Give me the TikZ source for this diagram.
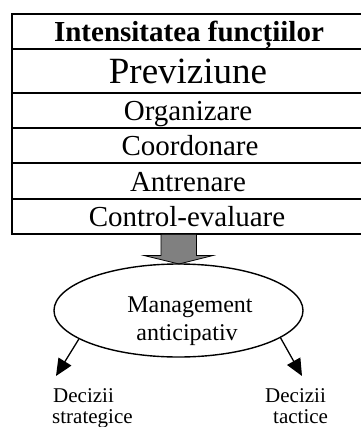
\documentclass[tikz,border=0pt]{standalone}
\usepackage{fontspec}
\setmainfont{Liberation Serif}
\usetikzlibrary{arrows.meta,shapes.geometric}

\tikzset{
  grid line/.style={line width=1.8bp, black},
  rowtext/.style={anchor=base, inner sep=0pt, font=\fontsize{29bp}{34bp}\selectfont},
  bigtext/.style={anchor=base, inner sep=0pt, font=\fontsize{37bp}{42bp}\selectfont},
  headtext/.style={anchor=base, inner sep=0pt, font=\fontsize{29bp}{34bp}\selectfont\bfseries},
  mgtext/.style={anchor=base, inner sep=0pt, font=\fontsize{24bp}{28bp}\selectfont},
  lbltext/.style={anchor=base west, inner sep=0pt, font=\fontsize{21bp}{24bp}\selectfont},
  blockarrow/.style={fill=black!50, draw=black, line width=0.8bp, line join=miter},
  ovalbox/.style={ellipse, draw, line width=1.4bp, minimum width=249bp, minimum height=93bp, inner sep=0pt},
  decarrow/.style={line width=1.3bp, -{Triangle[length=17bp,width=15bp]}}
}

\begin{document}
\begin{tikzpicture}[x=1bp, y=-1bp]
  \useasboundingbox (0,0) rectangle (361,427);

  % table frame and row separators (right edge runs past the page)
  \draw[grid line] (366,14) -- (11.7,14) -- (11.7,234.3) -- (366,234.3);
  \foreach \yy in {49.3, 93.3, 127.7, 163.3, 199.3}
    \draw[grid line] (11.7,\yy) -- (366,\yy);

  % row texts
  \node[headtext] (hdr)  at (189,41.5) {Intensitatea funcțiilor};
  \node[bigtext]  (prev) at (188,83)   {Previziune};
  \node[rowtext]  (org)  at (188,120)  {Organizare};
  \node[rowtext]  (coo)  at (190,155.5){Coordonare};
  \node[rowtext]  (ant)  at (188,191)  {Antrenare};
  \node[rowtext]  (ctl)  at (187,226.5){Control-evaluare};

  % block arrow from the table down to the oval
  \coordinate (arrtip) at (179,264);
  \draw[blockarrow] (161,234.3) -- (161,255.5) -- (144,255.5) -- (arrtip)
        -- (213,255.5) -- (196.5,255.5) -- (196.5,234.3) -- cycle;

  % oval
  \node[ovalbox] (mg) at (178.5,310.5) {};
  \node[mgtext] (mg1) at (190,312) {Management};
  \node[mgtext] (mg2) at (187,340) {anticipativ};

  % decision labels
  \node[lbltext] (ds1) at (53,402)  {Decizii};
  \node[lbltext] (ds2) at (52,423)  {strategice};
  \node[lbltext] (dt1) at (265,402) {Decizii};
  \node[lbltext] (dt2) at (273,423) {tactice};

  \coordinate (tipL) at (56,376);
  \coordinate (tipR) at (302,376);
  \draw[decarrow] (mg.196) -- (tipL);
  \draw[decarrow] (mg.345) -- (tipR);
\end{tikzpicture}
\end{document}
